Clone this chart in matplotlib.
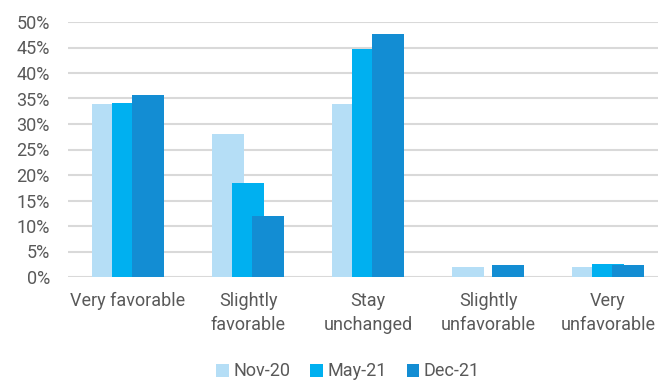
import matplotlib.pyplot as plt
import numpy as np
from matplotlib.ticker import PercentFormatter

categories = ["Very favorable", "Slightly\nfavorable", "Stay\nunchanged",
              "Slightly\nunfavorable", "Very\nunfavorable"]
series_names = ["Nov-20", "May-21", "Dec-21"]
nov20 = [0.340, 0.280, 0.340, 0.020, 0.020]
may21 = [0.342, 0.184, 0.447, 0.000, 0.026]
dec21 = [0.357, 0.119, 0.476, 0.024, 0.0235]
colors = ["#B5DEF6", "#00B0F0", "#138DD3"]

plt.rcParams['font.family'] = ['Roboto', 'DejaVu Sans']
text_color = "#595959"
fsize = 13

fig = plt.figure(figsize=(6.58, 3.80), dpi=100)
ax = fig.add_axes([68 / 658, 103 / 380, 600 / 658, 255 / 380])

x = np.arange(len(categories))
width = 0.267
offsets = [-0.1667, 0.0, 0.1667]
for vals, off, col, name in zip([nov20, may21, dec21], offsets, colors, series_names):
    ax.bar(x + off, vals, width=width, color=col, label=name, zorder=3)

ax.set_xlim(-0.5, 4.5)
ax.set_ylim(0, 0.5)
ax.set_yticks(np.arange(0, 0.501, 0.05))
ax.yaxis.set_major_formatter(PercentFormatter(1.0, decimals=0))
ax.grid(axis='y', color="#D9D9D9", linewidth=1.5, zorder=0)
ax.set_axisbelow(True)
for s in ax.spines.values():
    s.set_visible(False)
ax.tick_params(axis='both', length=0, labelsize=fsize, colors=text_color)
ax.tick_params(axis='y', pad=13)
ax.set_xticks(x)
ax.set_xticklabels(categories, linespacing=1.4)
ax.tick_params(axis='x', pad=11)

handles, labels = ax.get_legend_handles_labels()
fig.legend(handles, labels, loc='center', bbox_to_anchor=(348 / 658, 8.5 / 380),
           ncol=3, frameon=False, fontsize=fsize, labelcolor=text_color,
           handlelength=0.7, handleheight=0.7, handletextpad=0.25, columnspacing=1.1)

fig.savefig("out.png", dpi=100)
